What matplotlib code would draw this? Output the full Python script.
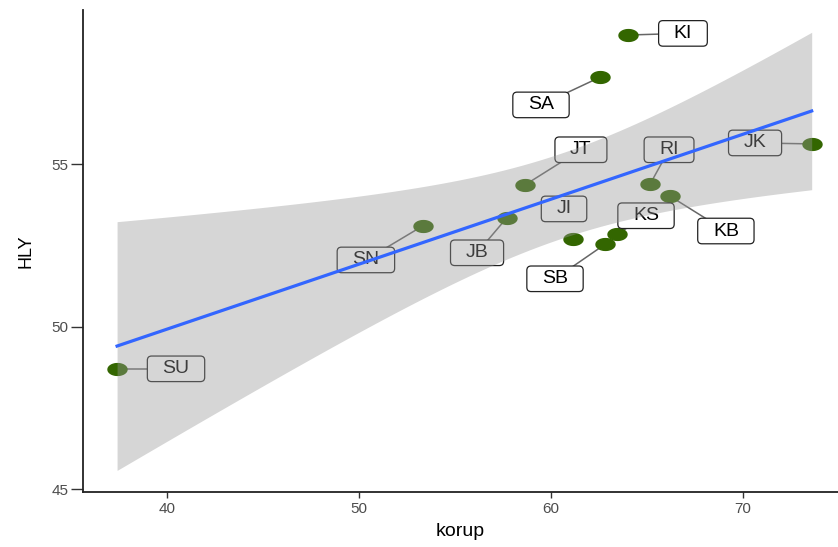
import numpy as np
import matplotlib
matplotlib.use("Agg")
import matplotlib.pyplot as plt
from matplotlib.path import Path
from matplotlib.patches import BoxStyle

plt.rcParams["font.family"] = ["Liberation Sans", "DejaVu Sans"]

# data
names = ["SU", "SN", "JB", "JT", "JI", "SB", "KS", "RI", "KB", "JK", "SA", "KI"]
korup = [37.40, 53.33, 57.69, 58.65, 61.16, 62.81, 63.45, 65.16, 66.18, 73.58, 62.55, 64.00]
hly = [48.71, 53.11, 53.35, 54.37, 52.69, 52.54, 52.85, 54.39, 54.03, 55.63, 57.68, 58.98]

# where the repelled labels ended up
label_x = [40.47, 50.36, 56.15, 61.56, 60.68, 60.21, 64.95, 66.15, 69.11, 70.63, 59.48, 66.875]
label_y = [48.71, 52.06, 52.28, 55.45, 53.63, 51.48, 53.42, 55.45, 52.95, 55.66, 56.83, 59.03]
no_segment = {"JI"}

x_ticks = [40, 50, 60, 70]
y_ticks = [45, 50, 55]

x = np.array(korup)
y = np.array(hly)

# linear fit with 95% confidence band (like geom_smooth(method="lm"))
n = len(x)
slope, intercept = np.polyfit(x, y, 1)
resid = y - (intercept + slope * x)
s = np.sqrt(np.sum(resid ** 2) / (n - 2))
t_crit = 2.228  # t(0.975, df=10)
xs = np.linspace(x.min(), x.max(), 80)
fit = intercept + slope * xs
se = s * np.sqrt(1 / n + (xs - x.mean()) ** 2 / np.sum((x - x.mean()) ** 2))
lower = fit - t_crit * se
upper = fit + t_crit * se


def label_box(x0, y0, width, height, mutation_size):
    # wider horizontal padding than the stock round box
    px = 0.78 * mutation_size
    py = 0.22 * mutation_size
    rnd = BoxStyle.Round(pad=0, rounding_size=0.22)
    return rnd(x0 - px, y0 - py, width + 2 * px, height + 2 * py, mutation_size)


t = np.linspace(0, 2 * np.pi, 40)
ellipse = Path(np.column_stack([np.cos(t), 0.62 * np.sin(t)]), closed=True)

fig = plt.figure(figsize=(8.38, 5.47), dpi=100)
ax = fig.add_axes([83 / 838, 55 / 547, 755 / 838, 482 / 547])

ax.plot(x, y, linestyle="none", marker=ellipse, markersize=13.7,
        color="#336600", zorder=2)

for i, name in enumerate(names):
    if name not in no_segment:
        ax.plot([x[i], label_x[i]], [y[i], label_y[i]], color="#666666",
                lw=1.1, zorder=1.5)
    ax.text(label_x[i], label_y[i], name, ha="center", va="center",
            fontsize=14, color="black", zorder=3,
            bbox=dict(boxstyle=label_box, facecolor="white",
                      edgecolor="#222222", linewidth=0.9))

ax.fill_between(xs, lower, upper, color="#999999", alpha=0.4, lw=0, zorder=4)
ax.plot(xs, fit, color="#3366FF", lw=2.3, zorder=5)

ax.set_xlim(35.625, 74.95)
ax.set_ylim(44.92, 59.75)
ax.set_xticks(x_ticks)
ax.set_yticks(y_ticks)
ax.tick_params(direction="out", width=1, color="#333333",
               labelcolor="#4D4D4D", labelsize=11)
ax.tick_params(axis="x", length=4, pad=3)
ax.tick_params(axis="y", length=8.5, pad=2)
for side in ["top", "right"]:
    ax.spines[side].set_visible(False)
for side in ["left", "bottom"]:
    ax.spines[side].set_linewidth(1.3)
    ax.spines[side].set_color("#222222")

ax.set_xlabel("korup", fontsize=14, labelpad=5)
ax.set_ylabel("HLY", fontsize=13, labelpad=12)

fig.savefig("out.png", dpi=100)
